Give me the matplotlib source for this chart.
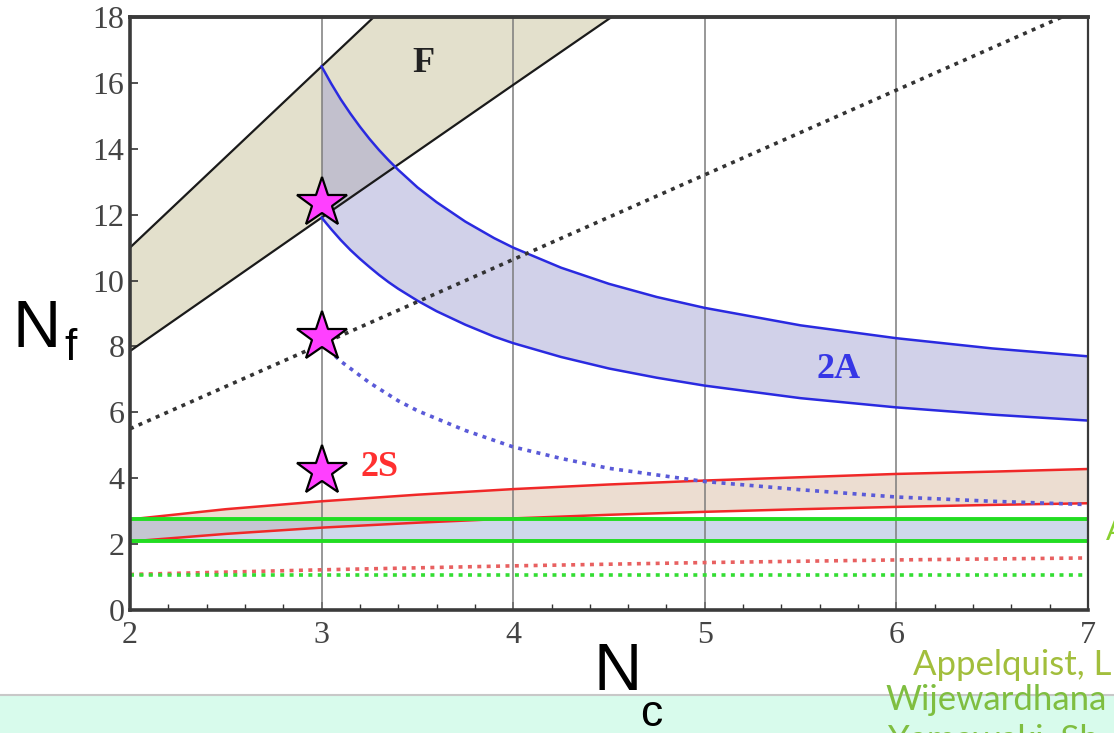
import matplotlib
matplotlib.use('Agg')
import matplotlib.pyplot as plt
from matplotlib.patches import Rectangle

# fundamental rep (F): loss of asymptotic freedom / ladder bound
nc_f = [2, 3, 4, 5, 6, 7]
f_upper = [11.0, 16.5, 22.0, 27.5, 33.0, 38.5]
f_lower = [7.86, 11.91, 15.94, 19.95, 23.96, 27.97]
f_dotted = [5.5, 8.07, 10.64, 13.21, 15.78, 18.35]

# two-index antisymmetric (2A)
nc_2a = [3, 3.05, 3.1, 3.15, 3.2, 3.25, 3.3, 3.35, 3.4, 3.5, 3.6, 3.75, 3.9, 4,
         4.25, 4.5, 4.75, 5, 5.5, 6, 6.5, 7]
a_upper = [16.5, 15.98, 15.5, 15.07, 14.67, 14.3, 13.96, 13.65, 13.36, 12.83, 12.38,
           11.79, 11.29, 11.0, 10.39, 9.9, 9.5, 9.17, 8.64, 8.25, 7.94, 7.7]
a_lower = [11.91, 11.56, 11.23, 10.93, 10.66, 10.41, 10.17, 9.95, 9.75, 9.39, 9.07,
           8.66, 8.3, 8.10, 7.68, 7.33, 7.05, 6.81, 6.43, 6.15, 5.93, 5.75]
nc_2a_dot = [3, 3.1, 3.25, 3.4, 3.5, 3.75, 4, 4.25, 4.5, 5, 5.5, 6, 6.5, 7]
a_dotted = [8.1, 7.55, 6.9, 6.35, 6.05, 5.45, 4.95, 4.6, 4.3, 3.9, 3.65, 3.43, 3.3, 3.2]

# two-index symmetric (2S)
nc_2s = [2, 2.5, 3, 3.5, 4, 4.5, 5, 5.5, 6, 6.5, 7]
s_upper = [2.75, 3.06, 3.3, 3.5, 3.67, 3.81, 3.93, 4.03, 4.13, 4.2, 4.28]
s_lower = [2.08, 2.31, 2.50, 2.65, 2.78, 2.89, 2.98, 3.06, 3.13, 3.19, 3.24]
nc_2s_dot = [2, 3, 4, 5, 6, 7]
s_dotted = [1.08, 1.22, 1.34, 1.44, 1.52, 1.58]

# adjoint (G)
nc_g = [2, 7]
g_upper = [2.75, 2.75]
g_lower = [2.08, 2.08]
g_dotted = [1.05, 1.05]

# lattice points
star_nc = [3, 3, 3]
star_nf = [12.35, 8.3, 4.23]

fig = plt.figure(figsize=(11.14, 7.33), dpi=100)
ax = fig.add_axes([130/1114, 1 - 610/733, 958/1114, 593/733])

# bands
ax.fill_between(nc_f, f_lower, f_upper, color='#c9c39a', alpha=0.5, lw=0, zorder=1)
ax.fill_between(nc_2a, a_lower, a_upper, color='#9a9ad0', alpha=0.45, lw=0, zorder=1.1)
ax.fill_between(nc_2s, s_lower, s_upper, color='#d0aa8c', alpha=0.4, lw=0, zorder=1.2)
ax.fill_between(nc_g, g_lower, g_upper, color='#96aad2', alpha=0.45, lw=0, zorder=1.3)

# grid lines at integer Nc
for xv in [3, 4, 5, 6]:
    ax.axvline(xv, color='#7c7c7c', lw=1.1, zorder=2)

# boundaries
ax.plot(nc_f, f_upper, color='#1a1a1a', lw=1.6, zorder=3)
ax.plot(nc_f, f_lower, color='#1a1a1a', lw=1.6, zorder=3)
ax.plot(nc_2a, a_upper, color='#2a2ae0', lw=1.8, zorder=3)
ax.plot(nc_2a, a_lower, color='#2a2ae0', lw=1.8, zorder=3)
ax.plot(nc_2s, s_upper, color='#f02828', lw=1.8, zorder=3)
ax.plot(nc_2s, s_lower, color='#f02828', lw=1.8, zorder=3)
ax.plot(nc_g, g_upper, color='#22dd22', lw=2.8, zorder=3)
ax.plot(nc_g, g_lower, color='#22dd22', lw=2.8, zorder=3)

dots = (0, (1.1, 1.5))
ax.plot(nc_f, f_dotted, color='#333333', lw=2.6, ls=dots, zorder=3)
ax.plot(nc_2a_dot, a_dotted, color='#5a5ad8', lw=2.6, ls=dots, zorder=3)
ax.plot(nc_2s_dot, s_dotted, color='#e86060', lw=2.6, ls=dots, zorder=3)
ax.plot(nc_g, g_dotted, color='#33dd33', lw=2.6, ls=dots, zorder=3)

ax.plot(star_nc, star_nf, ls='none', marker='*', ms=38, mfc='#ff40ff',
        mec='black', mew=1.6, zorder=5, clip_on=False)

# representation labels
ax.text(3.53, 16.6, 'F', family='Liberation Serif', fontweight='bold',
        fontsize=26, color='#222222', ha='center', va='center', zorder=6)
ax.text(5.70, 7.3, '2A', family='Liberation Serif', fontweight='bold',
        fontsize=26, color='#3636e6', ha='center', va='center', zorder=6)
ax.text(3.30, 4.32, '2S', family='Liberation Serif', fontweight='bold',
        fontsize=26, color='#ff3030', ha='center', va='center', zorder=6)

ax.set_xlim(2, 7)
ax.set_ylim(0, 18)
ax.set_xticks([2, 3, 4, 5, 6, 7])
ax.set_xticks([2 + 0.2 * i for i in range(26)], minor=True)
ax.set_yticks(range(0, 19, 2))
ax.tick_params(axis='both', which='major', direction='in', length=6, width=1.2,
               labelsize=23, labelcolor='#444444', color='#333333')
ax.tick_params(axis='x', which='minor', direction='in', length=4, width=1.0, color='#333333')
ax.tick_params(axis='x', pad=8)
ax.tick_params(axis='y', pad=4)
for lab in ax.get_xticklabels() + ax.get_yticklabels():
    lab.set_family('Liberation Serif')

for side, lw in [('left', 2.6), ('bottom', 2.6), ('top', 2.8), ('right', 1.6)]:
    ax.spines[side].set_linewidth(lw)
    ax.spines[side].set_color('#3a3a3a')
    ax.spines[side].set_zorder(4)

# axis names
fig.text(12/1114, 1 - 347/733, 'N', family='Liberation Sans', fontsize=48,
         ha='left', va='baseline')
fig.text(64/1114, 1 - 360/733, 'f', family='Liberation Sans', fontsize=32,
         ha='left', va='baseline')

# footer strip
fig.patches.append(Rectangle((0, 0), 1, 38/733, transform=fig.transFigure,
                             facecolor='#d8fbec', edgecolor='none', zorder=0))
fig.add_artist(plt.Line2D([0, 1], [38/733, 38/733], transform=fig.transFigure,
                          color='#c8c8c8', lw=1.5))

fig.text(593/1114, 1 - 690/733, 'N', family='Liberation Sans', fontsize=48,
         ha='left', va='baseline', zorder=5)
fig.text(640/1114, 1 - 726/733, 'c', family='Liberation Sans', fontsize=32,
         ha='left', va='baseline', zorder=5)

fig.text(913/1114, 1 - 675/733, 'Appelquist, L', family='Lato', fontsize=25,
         color='#a2be3c', ha='left', va='baseline')
fig.text(885/1114, 1 - 710/733, 'Wijewardhana', family='Lato', fontsize=25,
         color='#7fbe40', ha='left', va='baseline', zorder=5)
fig.text(888/1114, 1 - 749/733, 'Yamawaki, Sh', family='Lato', fontsize=25,
         color='#7fbe40', ha='left', va='baseline', zorder=5)
fig.text(1106/1114, 1 - 540/733, 'A', family='Lato', fontsize=22,
         color='#88d030', ha='left', va='baseline')

fig.savefig('out.png', dpi=100)
